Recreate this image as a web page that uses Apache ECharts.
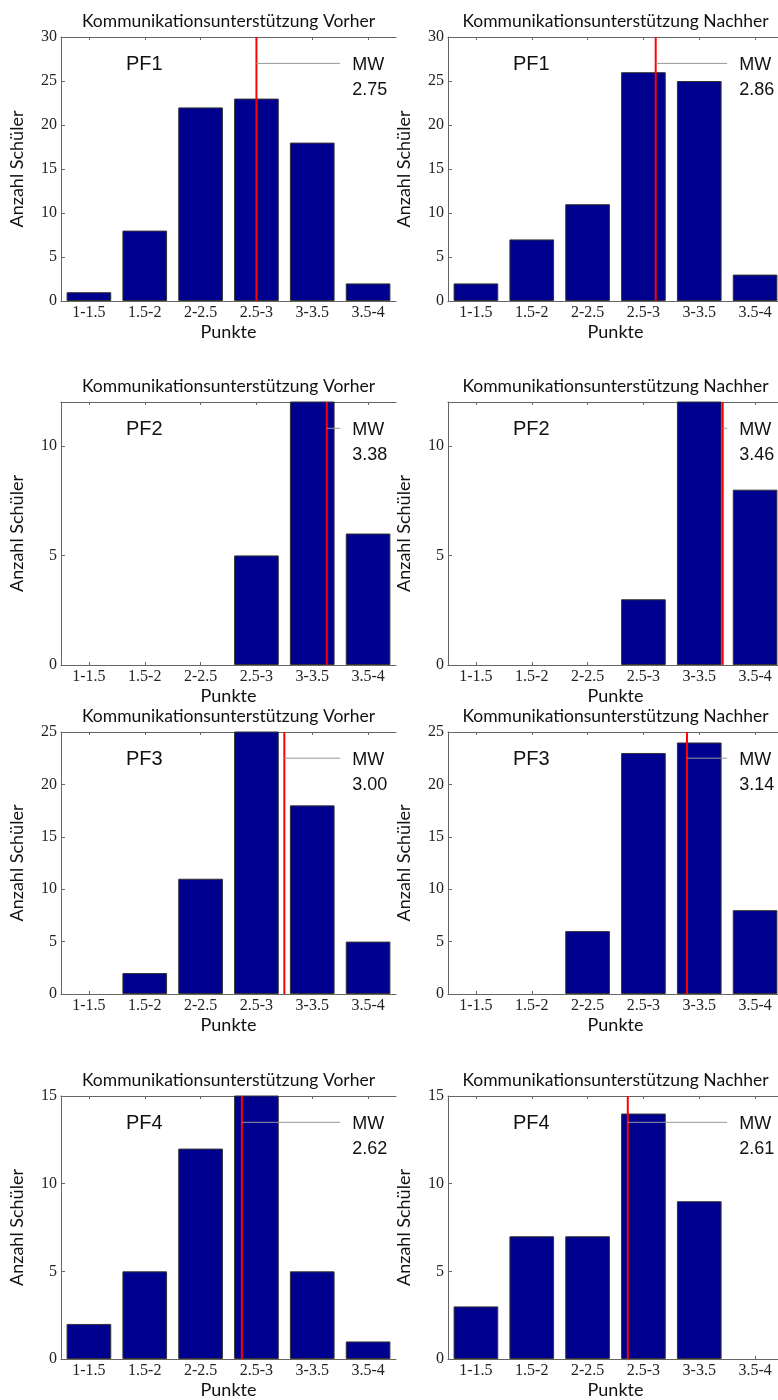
<!DOCTYPE html>
<html>
<head>
<meta charset="utf-8">
<script src="https://cdn.jsdelivr.net/npm/echarts@6/dist/echarts.min.js"></script>
<style>
  html, body { margin: 0; padding: 0; background: #fff; }
  #chart { width: 778px; height: 1400px; }
</style>
</head>
<body>
<div id="chart"></div>
<script>
// Punkte-Klassen
var categories = ['1-1.5', '1.5-2', '2-2.5', '2.5-3', '3-3.5', '3.5-4'];

// Anzahl Schüler je Klasse
var pf1Vorher = [1, 8, 22, 23, 18, 2];
var pf1Nachher = [2, 7, 11, 26, 25, 3];
var pf2Vorher = [0, 0, 0, 5, 14, 6];
var pf2Nachher = [0, 0, 0, 3, 15, 8];
var pf3Vorher = [0, 2, 11, 26, 18, 5];
var pf3Nachher = [0, 0, 6, 23, 24, 8];
var pf4Vorher = [2, 5, 12, 16, 5, 1];
var pf4Nachher = [3, 7, 7, 14, 9, 0];

// Mittelwerte (MW)
var mwVorher = [2.75, 3.38, 3.00, 2.62];
var mwNachher = [2.86, 3.46, 3.14, 2.61];

// y-Achsen Maximum je Zeile, Tickabstand
var yMax = [30, 12, 25, 15];
var yStep = 5;

var pfNames = ['PF1', 'PF2', 'PF3', 'PF4'];
var titleVorher = 'Kommunikationsunterstützung Vorher';
var titleNachher = 'Kommunikationsunterstützung Nachher';

var vorher = [pf1Vorher, pf2Vorher, pf3Vorher, pf4Vorher];
var nachher = [pf1Nachher, pf2Nachher, pf3Nachher, pf4Nachher];

// layout
var rowTop = [37, 402, 732, 1096];
var rowH = [264, 263, 262, 263];
var colLeft = [61, 448];
var plotW = 335;

var serif = '"Liberation Serif", "DejaVu Serif", serif';
var sans = 'Lato, "Open Sans", sans-serif';
var helv = '"Liberation Sans", Arial, sans-serif';

var grids = [], xAxes = [], yAxes = [], series = [], graphics = [];

var g = 0;
for (var r = 0; r < 4; r++) {
  for (var c = 0; c < 2; c++) {
    var vals = c == 0 ? vorher[r] : nachher[r];
    var mw = c == 0 ? mwVorher[r] : mwNachher[r];
    var max = yMax[r];
    grids.push({
      left: colLeft[c], top: rowTop[r], width: plotW, height: rowH[r],
      containLabel: false, outerBoundsMode: 'none'
    });
    // unten: Kategorien
    xAxes.push({
      gridIndex: g, type: 'category', data: categories, position: 'bottom',
      name: 'Punkte', nameLocation: 'middle', nameGap: 22,
      nameTextStyle: { fontFamily: sans, fontSize: 18, color: '#111' },
      axisLine: { show: true, lineStyle: { color: '#666', width: 1 } },
      axisTick: { show: true, inside: true, length: 3, alignWithLabel: true, lineStyle: { color: '#666' } },
      axisLabel: { fontFamily: serif, fontSize: 16, color: '#222', margin: 4 },
      splitLine: { show: false }
    });
    // oben: Rahmen + Titel
    xAxes.push({
      gridIndex: g, type: 'category', data: categories, position: 'top',
      name: c == 0 ? titleVorher : titleNachher, nameLocation: 'middle', nameGap: 7,
      nameTextStyle: { fontFamily: sans, fontSize: 17.5, color: '#111' },
      axisLine: { show: true, lineStyle: { color: '#666', width: 1 } },
      axisTick: { show: true, inside: true, length: 3, alignWithLabel: true, lineStyle: { color: '#666' } },
      axisLabel: { show: false },
      splitLine: { show: false }
    });
    // Werteachse für MW-Linie (1..4)
    xAxes.push({
      gridIndex: g, type: 'value', min: 1, max: 4, show: false
    });
    yAxes.push({
      gridIndex: g, type: 'value', min: 0, max: max, interval: yStep,
      name: 'Anzahl Schüler', nameLocation: 'middle', nameGap: 35,
      nameTextStyle: { fontFamily: sans, fontSize: 18, color: '#111' },
      axisLine: { show: true, lineStyle: { color: '#666', width: 1 } },
      axisTick: { show: true, inside: true, length: 4, lineStyle: { color: '#666' } },
      axisLabel: {
        fontFamily: serif, fontSize: 16, color: '#222', margin: 4,
        formatter: function (v) { return v % yStep === 0 ? v : ''; }
      },
      splitLine: { show: false }
    });
    series.push({
      type: 'bar', xAxisIndex: g * 3, yAxisIndex: g,
      // leere Klassen nicht als Strich zeichnen
      data: vals.map(function (v) { return v === 0 ? null : v; }),
      barWidth: '80%', clip: true,
      itemStyle: { color: '#00008f', borderColor: '#333', borderWidth: 1 },
      emphasis: { disabled: true }
    });
    // Mittelwert-Linie
    series.push({
      type: 'line', xAxisIndex: g * 3 + 2, yAxisIndex: g,
      data: [[mw, 0], [mw, max]], symbol: 'none', z: 5,
      lineStyle: { color: '#ff0000', width: 2 },
      emphasis: { disabled: true }
    });
    // MW-Hinweis
    series.push({
      type: 'line', xAxisIndex: g * 3 + 2, yAxisIndex: g,
      data: [[mw, max * 0.9], {
        value: [3.5, max * 0.9],
        label: {
          show: true, position: 'right', distance: 12, offset: [0, 14],
          formatter: 'MW\n' + mw.toFixed(2),
          fontFamily: helv, fontSize: 18, lineHeight: 25, color: '#111'
        }
      }],
      symbol: 'circle', symbolSize: 0, showSymbol: true, z: 6,
      lineStyle: { color: '#999', width: 1 },
      itemStyle: { color: 'rgba(0,0,0,0)' },
      emphasis: { disabled: true }
    });
    graphics.push({
      type: 'text', x: colLeft[c] + 65, y: rowTop[r] + 27, z: 10,
      style: { text: pfNames[r], font: '20px ' + helv, fill: '#111', verticalAlign: 'middle' }
    });
    g++;
  }
}

var myChart = echarts.init(document.getElementById('chart'));
var option = {
  animation: false,
  backgroundColor: '#fff',
  grid: grids,
  xAxis: xAxes,
  yAxis: yAxes,
  series: series,
  graphic: graphics
};
myChart.setOption(option);
</script>
</body>
</html>
